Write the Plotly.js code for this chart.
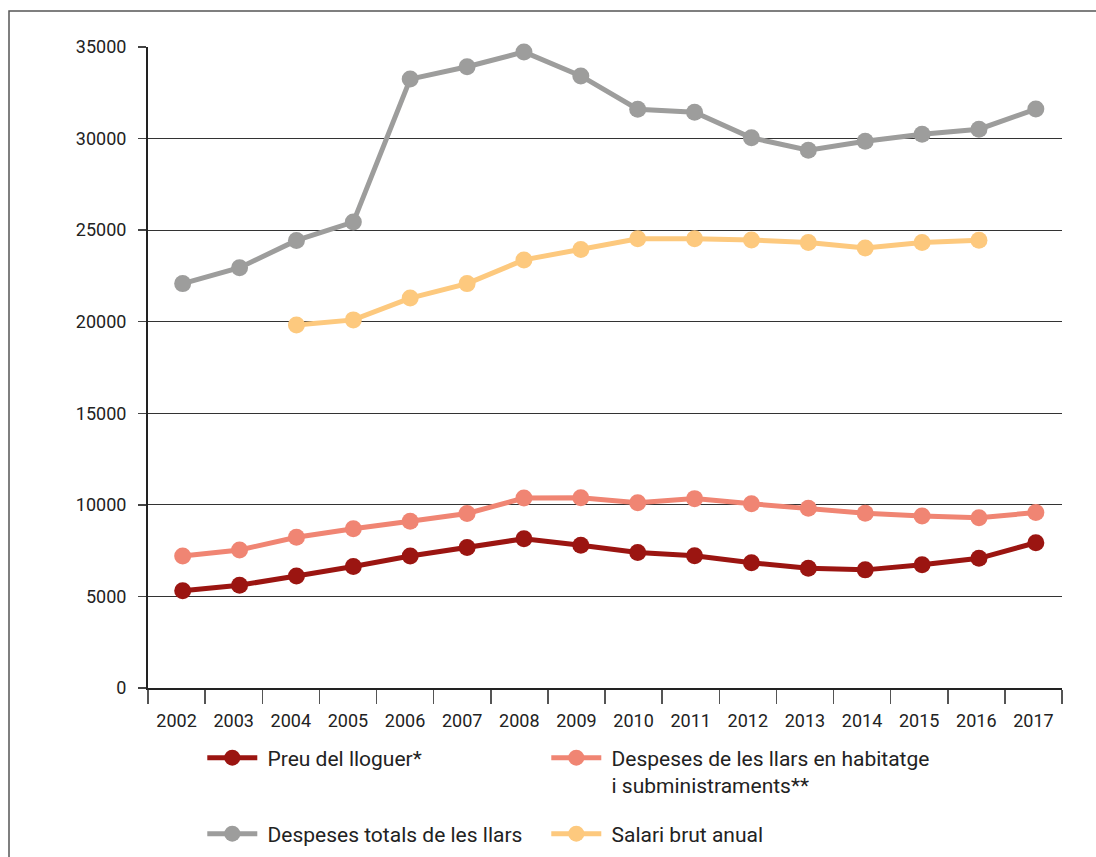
<!DOCTYPE html>
<html>
<head>
<meta charset="utf-8">
<script src="https://cdn.plot.ly/plotly-3.0.1.min.js"></script>
<style>html,body{margin:0;padding:0;background:#fff;}#chart{width:1096px;height:857px;}</style>
</head>
<body>
<div id="chart"></div>
<script>
const years = [2002,2003,2004,2005,2006,2007,2008,2009,2010,2011,2012,2013,2014,2015,2016,2017];
const yearLabels = ["2002","2003","2004","2005","2006","2007","2008","2009","2010","2011","2012","2013","2014","2015","2016","2017"];
const preuLloguer = [5310,5610,6120,6630,7210,7670,8150,7790,7400,7220,6840,6540,6450,6730,7080,7930];
const despesesHabitatge = [7210,7540,8230,8700,9100,9530,10370,10390,10120,10340,10060,9810,9540,9390,9300,9580];
const despesesTotals = [22080,22950,24440,25440,33250,33920,34730,33420,31600,31440,30045,29360,29850,30230,30510,31610];
const salariBrut = [null,null,19820,20100,21290,22080,23375,23940,24530,24530,24460,24320,24030,24330,24450,null];
const NB = '\u00a0';
const names = [NB + "Preu del lloguer*", NB + "Despeses de les llars en habitatge<br>" + NB + "i subministraments**", NB + "Despeses totals de les llars", NB + "Salari brut anual"];
const colors = ["#9B1511","#F08573","#9D9D9C","#FDC97E"];
const legendOf = ['legend', 'legend2', 'legend3', 'legend4'];
const seriesList = [preuLloguer, despesesHabitatge, despesesTotals, salariBrut];

const traces = seriesList.map((vals, i) => ({
  type: 'scatter', mode: 'lines+markers',
  x: years, y: vals, name: names[i], legend: legendOf[i],
  line: {color: colors[i], width: 5},
  marker: {color: colors[i], size: 17},
  connectgaps: false,
  cliponaxis: false
}));
// empty helper trace so the labelled category axis is drawn
traces.push({
  type: 'scatter', mode: 'markers', x: years, y: years.map(() => null),
  xaxis: 'x2', yaxis: 'y', showlegend: false, hoverinfo: 'skip'
});

const boundaries = [];
for (let i = 0; i <= years.length; i++) boundaries.push(years[0] - 0.5 + i);

const legendBase = {
  orientation: 'v', xanchor: 'left', yanchor: 'top',
  itemwidth: 50, valign: 'top',
  font: {size: 21, color: '#222222'}, bgcolor: 'rgba(0,0,0,0)'
};
const colX = [0.0594, 0.0594 + 344 / 914];
const rowY = [-0.0772, -0.1958];

const layout = {
  width: 1096, height: 857,
  margin: {l: 148, r: 34, t: 47, b: 169, autoexpand: false},
  paper_bgcolor: '#ffffff', plot_bgcolor: '#ffffff',
  font: {family: 'Roboto, "DejaVu Sans", sans-serif', size: 18, color: '#222222'},
  showlegend: true,
  xaxis: {
    type: 'linear', range: [2001.39, 2017.46], visible: false, fixedrange: true
  },
  xaxis2: {
    type: 'linear', overlaying: 'x', anchor: 'y', side: 'bottom',
    range: [2001.5, 2017.5],
    tickmode: 'array', tickvals: years, ticktext: yearLabels,
    ticks: '', showgrid: false, zeroline: false,
    showline: true, linecolor: '#222222', linewidth: 2,
    tickfont: {size: 18, color: '#222222'},
    ticklabelstandoff: 15,
    minor: {tickmode: 'array', tickvals: boundaries, ticks: 'outside', ticklen: 14, tickwidth: 1.5, tickcolor: '#555555', showgrid: false}
  },
  yaxis: {
    range: [0, 35000], dtick: 5000, tick0: 0, tickformat: 'd',
    showgrid: true, gridcolor: '#333333', gridwidth: 1,
    zeroline: false, showline: true, linecolor: '#222222', linewidth: 2,
    ticks: 'outside', ticklen: 8, tickwidth: 1.5, tickcolor: '#444444',
    tickfont: {size: 18, color: '#222222'},
    ticklabelstandoff: 8
  },
  legend: Object.assign({}, legendBase, {x: colX[0], y: rowY[0]}),
  legend2: Object.assign({}, legendBase, {x: colX[1], y: rowY[0]}),
  legend3: Object.assign({}, legendBase, {x: colX[0], y: rowY[1]}),
  legend4: Object.assign({}, legendBase, {x: colX[1], y: rowY[1]}),
  shapes: [{
    type: 'rect', xref: 'paper', yref: 'paper',
    x0: (9 - 148) / 914, x1: 1.3, y0: -0.4, y1: (688 - 11) / 641,
    line: {color: '#555555', width: 1.5}, fillcolor: 'rgba(0,0,0,0)', layer: 'below'
  }]
};

Plotly.newPlot('chart', traces, layout, {displayModeBar: false, staticPlot: true});
</script>
</body>
</html>
